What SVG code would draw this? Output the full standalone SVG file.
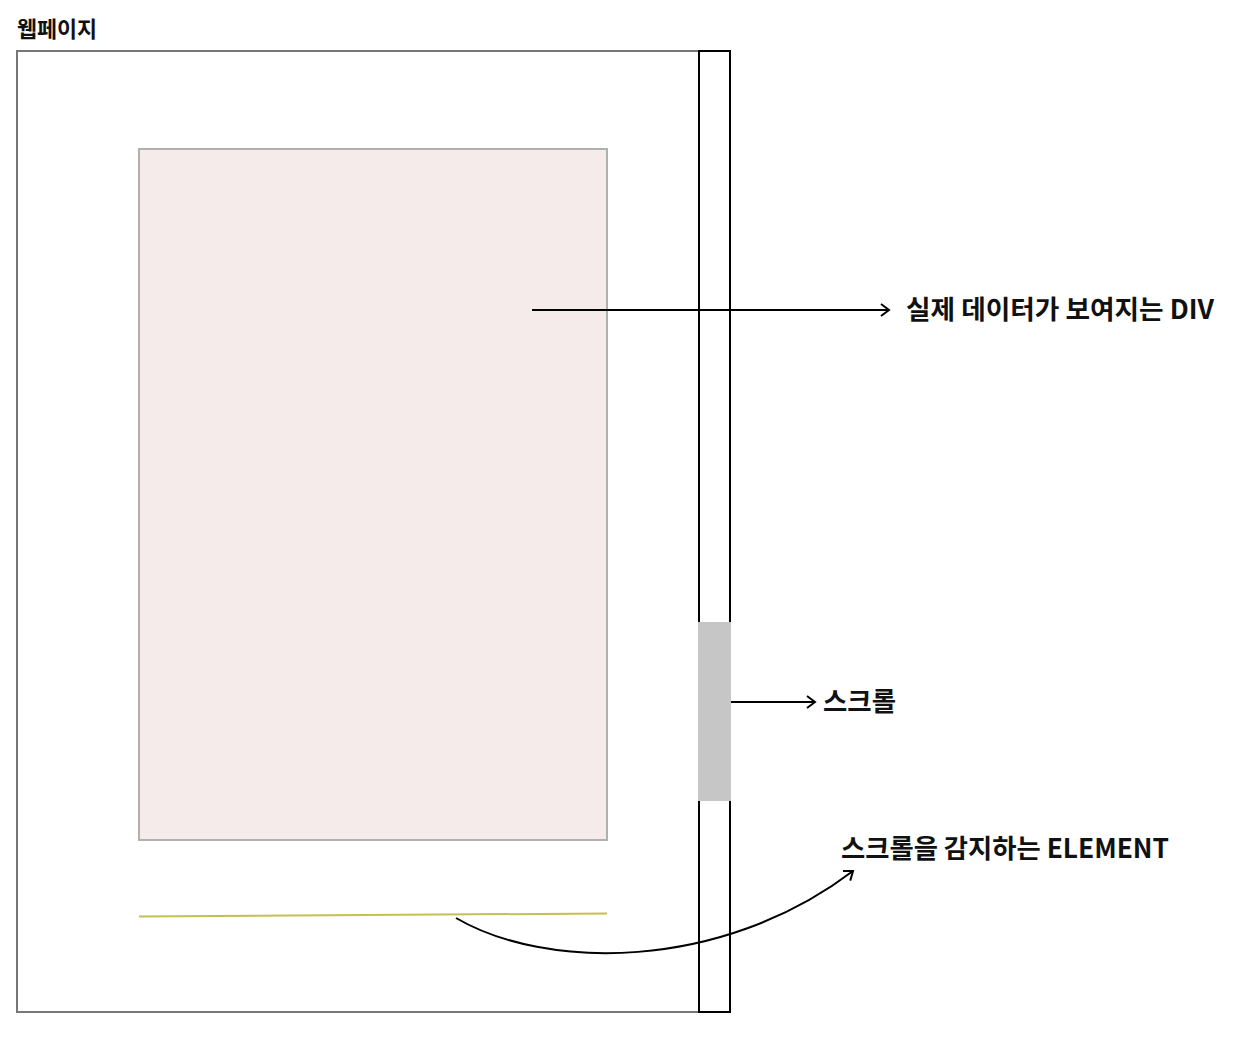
<svg xmlns="http://www.w3.org/2000/svg" width="1240" height="1042" viewBox="0 0 1240 1042">
<style>
text{font-family:"Noto Sans CJK KR","Noto Sans",sans-serif;font-weight:bold;fill:#111}
.conn{fill:none;stroke:#000;stroke-width:2}
</style>
<defs>
<marker id="ah" markerWidth="12" markerHeight="14" refX="10" refY="7" orient="auto" markerUnits="userSpaceOnUse">
<path d="M2,1 L10,7 L2,13" fill="none" stroke="#000" stroke-width="2"/>
</marker>
</defs>
<rect width="1240" height="1042" fill="#fff"/>
<g id="page">
<rect x="17" y="51" width="682" height="961" fill="#fff" stroke="#777" stroke-width="2"/>
<text x="17" y="37" font-size="22" textLength="80" lengthAdjust="spacingAndGlyphs">웹페이지</text>
</g>
<g id="scrollbar">
<rect x="699" y="51" width="31" height="961" fill="#fff" stroke="#000" stroke-width="2"/>
</g>
<g id="thumb">
<rect x="698" y="622" width="33" height="179" fill="#c6c6c6"/>
</g>
<g id="data-div">
<rect x="139" y="149" width="468" height="691" fill="#f5ebeb" stroke="#b0b0b0" stroke-width="2"/>
</g>
<g id="sensor">
<line x1="139" y1="916.5" x2="607" y2="913.5" stroke="#c4bf52" stroke-width="2"/>
</g>
<g id="connectors">
<line class="conn" x1="532" y1="310" x2="889" y2="310" marker-end="url(#ah)"/>
<line class="conn" x1="731" y1="702" x2="815" y2="702" marker-end="url(#ah)"/>
<path class="conn" d="M456,918 C545,970 720,972 853,871" marker-end="url(#ah)"/>
</g>
<g id="labels">
<text x="906" y="319" font-size="26.5" textLength="308" lengthAdjust="spacingAndGlyphs">실제 데이터가 보여지는 DIV</text>
<text x="823" y="711" font-size="26.5" textLength="73" lengthAdjust="spacingAndGlyphs">스크롤</text>
<text x="841" y="858" font-size="26.5" textLength="328" lengthAdjust="spacingAndGlyphs">스크롤을 감지하는 ELEMENT</text>
</g>
</svg>
